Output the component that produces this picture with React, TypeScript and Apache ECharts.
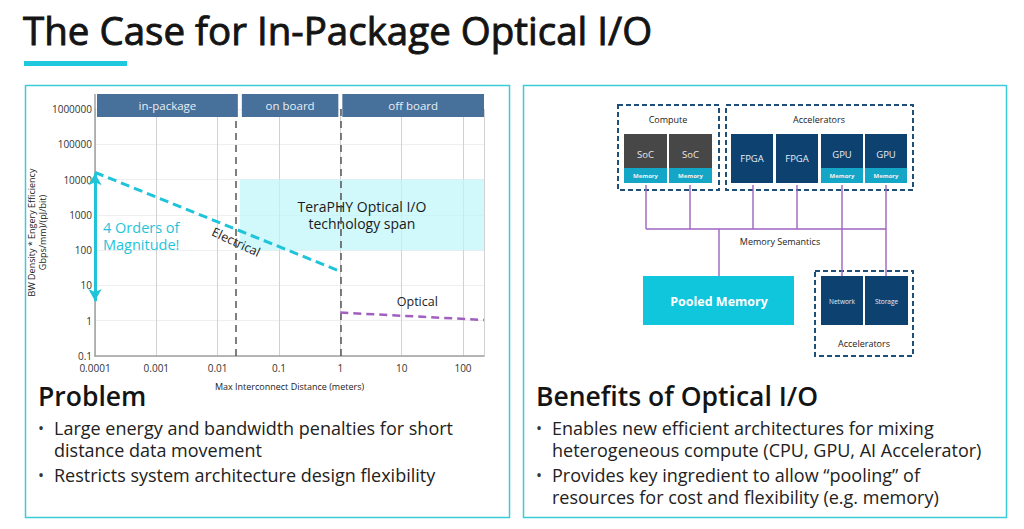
import React, { useEffect, useRef } from "react";
import * as echarts from "echarts";

// ---- data ----
const xTickLabels = ["0.0001", "0.001", "0.01", "0.1", "1", "10", "100"];
const yTickLabels = ["0.1", "1", "10", "100", "1000", "10000", "100000", "1000000"];
const electrical = [
  [0.0001, 16000],
  [1, 25],
];
const optical = [
  [1, 1.7],
  [220, 1.05],
];
const magnitudeArrow = [
  [0.0001, 15000],
  [0.0001, 3.6],
];
const regionBounds = [0.023, 1];
const headerBands = [
  { label: "in-package", from: 0.0001, to: 0.023 },
  { label: "on board", from: 0.023, to: 1 },
  { label: "off board", from: 1, to: 220 },
];
const terapySpan = { x: [0.023, 220], y: [100, 10000] };

const FONT = "'Open Sans', Lato, sans-serif";
const CYAN = "#1fc4da";
const PURPLE = "#a15fc0";
const NAVY = "#0c4170";
const MEMC = "#14a6c6";
const SOC = "#474747";
const DASHBOX = "#1d4f7a";
const LINK = "#9d63c0";

function lbl(list: string[], base: number) {
  return (v: number) => {
    const l = Math.log10(v);
    const r = Math.round(l);
    if (Math.abs(l - r) > 0.01) return "";
    return list[r - base] ?? "";
  };
}

function staticGraphics(): any[] {
  const g: any[] = [];
  const text = (x: number, y: number, t: string, s: any = {}) =>
    g.push({
      type: "text",
      x,
      y,
      z: 50,
      style: {
        text: t,
        fontFamily: FONT,
        fontSize: 9,
        fill: "#222",
        align: "center",
        verticalAlign: "middle",
        ...s,
      },
    });
  const rect = (x: number, y: number, w: number, h: number, s: any) =>
    g.push({ type: "rect", z: 40, shape: { x, y, width: w, height: h }, style: s });
  const line = (x1: number, y1: number, x2: number, y2: number) =>
    g.push({
      type: "line",
      z: 41,
      shape: { x1, y1, x2, y2 },
      style: { stroke: LINK, lineWidth: 1.4 },
    });

  // title
  text(23, 30, "The Case for In-Package Optical I/O", {
    fontSize: 38.5,
    align: "left",
    fill: "#141414",
    stroke: "#141414",
    lineWidth: 0.9,
  });
  rect(24, 61, 103, 5, { fill: "#1fc8dc" });

  // panels
  rect(25.5, 85.5, 484, 432, { fill: "none", stroke: "#3ccbdb", lineWidth: 1.5 });
  rect(523.5, 85.5, 483, 432, { fill: "none", stroke: "#3ccbdb", lineWidth: 1.5 });

  // ---- diagram ----
  const dashed = { fill: "none", stroke: DASHBOX, lineWidth: 2, lineDash: [5, 3] };
  [646, 690, 753, 797].forEach((x) => line(x, 185, x, 229));
  [842, 886].forEach((x) => line(x, 185, x, 276));
  line(646, 229, 886, 229);
  line(719, 229, 719, 276);

  rect(618, 105, 101, 85, dashed);
  rect(726, 105, 187, 85, dashed);
  rect(815, 271, 98, 85, dashed);

  text(668, 119, "Compute", { fontSize: 9 });
  text(819, 119, "Accelerators", { fontSize: 9 });

  [624, 669].forEach((x) => {
    rect(x, 134, 43, 34, { fill: SOC });
    rect(x, 168, 43, 15, { fill: MEMC });
    text(x + 21.5, 154, "SoC", { fontSize: 9.5, fill: "#e8e8e8" });
    text(x + 21.5, 176, "Memory", { fontSize: 6, fill: "#f2f2f2", fontWeight: "bold" });
  });
  [731, 776].forEach((x) => {
    rect(x, 134, 42, 49, { fill: NAVY });
    text(x + 21, 158.5, "FPGA", { fontSize: 9.5, fill: "#e8eef5" });
  });
  [821, 865].forEach((x) => {
    rect(x, 134, 42, 34, { fill: NAVY });
    rect(x, 168, 42, 15, { fill: MEMC });
    text(x + 21, 154, "GPU", { fontSize: 9.5, fill: "#e8eef5" });
    text(x + 21, 176, "Memory", { fontSize: 6, fill: "#f2f2f2", fontWeight: "bold" });
  });

  text(780, 241, "Memory Semantics", { fontSize: 9 });

  rect(643, 276, 151, 49, { fill: "#0fc6dc" });
  text(719, 301, "Pooled Memory", { fontSize: 12.5, fill: "#ffffff", fontWeight: "bold" });

  rect(821, 276, 42, 49, { fill: NAVY });
  rect(865, 276, 43, 49, { fill: NAVY });
  text(842, 301, "Network", { fontSize: 6.5, fill: "#e8eef5" });
  text(886.5, 301, "Storage", { fontSize: 6.5, fill: "#e8eef5" });
  text(864, 343, "Accelerators", { fontSize: 9 });

  // ---- bottom texts ----
  const head = { fontSize: 26.5, align: "left", fontWeight: 600, fill: "#141414" };
  text(38, 396, "Problem", head);
  text(536, 396, "Benefits of Optical I/O", head);
  const body = { fontSize: 18, lineHeight: 22, align: "left", verticalAlign: "top", fill: "#222" };
  const bullet = { fontSize: 16, align: "left", fill: "#333" };
  text(38, 428, "•", bullet);
  text(54, 417, "Large energy and bandwidth penalties for short\ndistance data movement", body);
  text(38, 475, "•", bullet);
  text(54, 464, "Restricts system architecture design flexibility", body);

  text(536, 428, "•", bullet);
  text(552, 417, "Enables new efficient architectures for mixing\nheterogeneous compute (CPU, GPU, AI Accelerator)", body);
  text(536, 475, "•", bullet);
  text(552, 464, "Provides key ingredient to allow \u201Cpooling\u201D of\nresources for cost and flexibility (e.g. memory)", body);
  return g;
}

export default function App() {
  const ref = useRef<HTMLDivElement>(null);
  useEffect(() => {
    if (!ref.current) return;
    const chart = echarts.init(ref.current, null, { renderer: "svg" });
    const option: any = {
      animation: false,
      backgroundColor: "#ffffff",
      textStyle: { fontFamily: FONT },
      grid: { left: 95, top: 109, right: 540, bottom: 173, containLabel: false },
      xAxis: {
        type: "log",
        logBase: 10,
        min: 0.0001,
        max: 220,
        splitNumber: 7,
        name: "Max Interconnect Distance (meters)",
        nameLocation: "middle",
        nameGap: 26,
        nameTextStyle: { fontSize: 9, color: "#222", fontFamily: FONT },
        axisLine: { show: true, lineStyle: { color: "#a0a0a0", width: 1.5 } },
        axisTick: { show: false },
        axisLabel: {
          margin: 7,
          fontSize: 10,
          color: "#333",
          fontFamily: FONT,
          formatter: lbl(xTickLabels, -4),
          showMaxLabel: false,
        },
        splitLine: { show: true, lineStyle: { color: "#d2d2d2", width: 1 } },
        minorTick: { show: false },
      },
      yAxis: {
        type: "log",
        logBase: 10,
        min: 0.1,
        max: 1000000,
        splitNumber: 7,
        name: "BW Density * Engery Efficiency\nGbps/mm)/(pJ/bit)",
        nameLocation: "middle",
        nameGap: 39,
        nameTextStyle: { fontSize: 9, color: "#222", lineHeight: 10.8, fontFamily: FONT },
        axisLine: { show: true, lineStyle: { color: "#a0a0a0", width: 1.5 } },
        axisTick: { show: false },
        axisLabel: {
          margin: 3,
          fontSize: 10,
          color: "#333",
          fontFamily: FONT,
          formatter: lbl(yTickLabels, -1),
        },
        splitLine: { show: true, lineStyle: { color: "#efefef", width: 1 } },
      },
      series: [
        {
          name: "Electrical",
          type: "line",
          data: electrical,
          symbol: "none",
          z: 5,
          lineStyle: { color: CYAN, width: 3, type: [9, 5] },
          markArea: {
            silent: true,
            itemStyle: { color: "rgba(190,245,250,0.7)" },
            label: {
              show: true,
              position: "inside",
              formatter: "TeraPHY Optical I/O\ntechnology span",
              fontSize: 14,
              lineHeight: 17.5,
              color: "#1a1a1a",
              fontFamily: FONT,
            },
            data: [
              [
                { coord: [terapySpan.x[0], terapySpan.y[1]] },
                { coord: [terapySpan.x[1], terapySpan.y[0]] },
              ],
            ],
          },
          markLine: {
            silent: true,
            symbol: "none",
            label: { show: false },
            lineStyle: { color: "#555", width: 1.5, type: [7, 5] },
            data: regionBounds.map((b) => ({ xAxis: b })),
          },
        },
        {
          name: "Optical",
          type: "line",
          data: optical,
          symbol: "none",
          z: 5,
          lineStyle: { color: PURPLE, width: 2.5, type: [8, 5] },
        },
        {
          name: "Magnitude",
          type: "line",
          data: magnitudeArrow,
          symbol: "none",
          lineStyle: { width: 0, opacity: 0 },
          markLine: {
            silent: true,
            symbol: ["arrow", "arrow"],
            symbolSize: [10, 12],
            label: { show: false },
            lineStyle: { color: CYAN, width: 3, type: "solid" },
            data: [[{ coord: magnitudeArrow[0] }, { coord: magnitudeArrow[1] }]],
          },
        },
      ],
      graphic: staticGraphics(),
    };
    chart.setOption(option);

    const px = (x: number, y: number) => chart.convertToPixel({ gridIndex: 0 }, [x, y]) as number[];
    const extra: any[] = [];
    const top = px(0.0001, 1000000);
    extra.push({
      type: "line",
      z: 30,
      shape: { x1: top[0], y1: top[1] - 15, x2: top[0], y2: top[1] },
      style: { stroke: "#a0a0a0", lineWidth: 1.5 },
    });
    headerBands.forEach((b, i) => {
      const a = px(b.from, 1000000);
      const c = px(b.to, 1000000);
      const x0 = a[0] + 2;
      const x1 = i === headerBands.length - 1 ? c[0] : c[0] - 2;
      extra.push({
        type: "rect",
        z: 30,
        shape: { x: x0, y: top[1] - 15, width: x1 - x0, height: 23 },
        style: { fill: "#47709a" },
      });
      extra.push({
        type: "text",
        z: 31,
        x: (x0 + x1) / 2,
        y: top[1] - 4,
        style: {
          text: b.label,
          fontFamily: FONT,
          fontSize: 11.5,
          fill: "#e6eef6",
          align: "center",
          verticalAlign: "middle",
        },
      });
    });
    const annot = (x: number, y: number, t: string, s: any, rot = 0) => {
      const p = px(x, y);
      extra.push({
        type: "text",
        z: 32,
        x: p[0],
        y: p[1],
        rotation: rot,
        style: {
          text: t,
          fontFamily: FONT,
          verticalAlign: "middle",
          ...s,
        },
      });
    };
    annot(0.000135, 250, "4 Orders of\nMagnitude!", {
      fontSize: 14.5,
      lineHeight: 17.4,
      fill: CYAN,
      align: "left",
    });
    annot(0.02, 170, "Electrical", { fontSize: 12.5, fill: "#222", align: "center" }, (-25 * Math.PI) / 180);
    annot(18, 3.4, "Optical", { fontSize: 12.5, fill: "#222", align: "center" });

    chart.setOption({ graphic: [...staticGraphics(), ...extra] }, { replaceMerge: ["graphic"] });

    return () => chart.dispose();
  }, []);
  return (
    <div
      ref={ref}
      style={{ position: "fixed", left: 0, top: 0, width: 1024, height: 529, background: "#fff" }}
    />
  );
}
